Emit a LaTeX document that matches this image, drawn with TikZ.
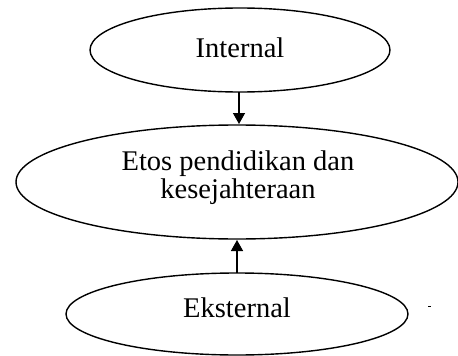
\documentclass[tikz,border=0pt]{standalone}
\usepackage{fontspec}
\setmainfont{Liberation Serif}
\usetikzlibrary{arrows.meta}
\begin{document}
\begin{tikzpicture}[x=1pt,y=-1pt,
  oval/.style={draw=black,line width=1.4pt},
  lbl/.style={font=\fontsize{28.5}{28}\selectfont,align=center},
  conn/.style={line width=1.4pt,-{Triangle[length=11pt,width=12pt]}}]
\useasboundingbox (0,0) rectangle (458,356);
\draw[oval] (240,50) ellipse [x radius=150, y radius=42];
\node[lbl] (int) at (240,48) {Internal};
\draw[oval] (237,182) ellipse [x radius=221, y radius=57];
\node[lbl] (mid) at (238,178) {Etos pendidikan dan\\kesejahteraan};
\draw[oval] (237,314) ellipse [x radius=171, y radius=41];
\node[lbl] (eks) at (237,308) {Eksternal};
\coordinate (a1) at (239,92);
\coordinate (a2) at (239,124);
\coordinate (b1) at (237,273);
\coordinate (b2) at (237,240);
\draw[conn] (a1) -- (a2);
\draw[conn] (b1) -- (b2);
\coordinate (m1) at (428,306);
\coordinate (m2) at (431,306);
\draw[line width=1pt] (m1) -- (m2);
\end{tikzpicture}
\end{document}
